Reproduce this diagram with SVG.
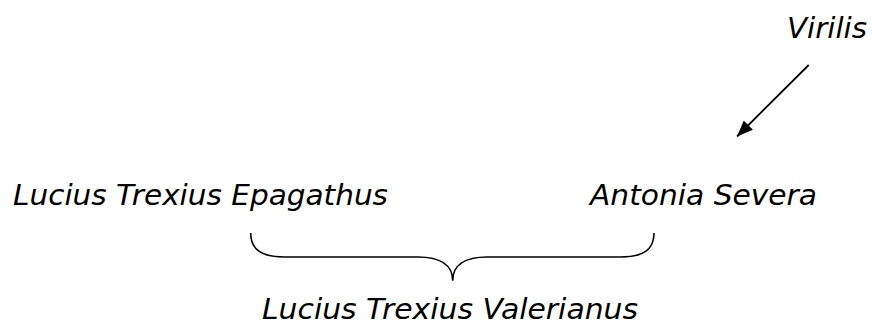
<svg xmlns="http://www.w3.org/2000/svg" width="874" height="329" viewBox="0 0 874 329">
<style>
.t{font-family:"Comic Sans MS","DejaVu Sans","Liberation Sans",sans-serif;font-style:italic;font-size:28px;fill:#000}
.c{fill:none;stroke:#000;stroke-width:1.6}
</style>
<defs>
<marker id="ah" viewBox="0 0 10 10" refX="10" refY="5" markerWidth="16" markerHeight="13" markerUnits="userSpaceOnUse" orient="auto" preserveAspectRatio="none">
<path d="M0,0 L10,5 L0,10 z" fill="#000"/>
</marker>
</defs>
<rect width="874" height="329" fill="#fff"/>
<g id="connectors">
<line class="c" x1="808.7" y1="65" x2="737" y2="136.5" marker-end="url(#ah)" style="stroke-width:1.8"/>
<path id="brace" class="c" d="M250.7,233 C250.7,250 262,257 285,257 L418,257 C440,257 452.7,265 452.7,280.7 C452.7,265 465,257 487,257 L620,257 C643,257 654,250 654,233"/>
</g>
<g id="virilis"><text class="t" x="787" y="38" textLength="80" lengthAdjust="spacingAndGlyphs">Virilis</text></g>
<g id="epagathus"><text class="t" x="13" y="205" textLength="375" lengthAdjust="spacingAndGlyphs">Lucius Trexius Epagathus</text></g>
<g id="severa"><text class="t" x="590" y="205" textLength="227" lengthAdjust="spacingAndGlyphs">Antonia Severa</text></g>
<g id="valerianus"><text class="t" x="262" y="319" textLength="376" lengthAdjust="spacingAndGlyphs">Lucius Trexius Valerianus</text></g>
</svg>
